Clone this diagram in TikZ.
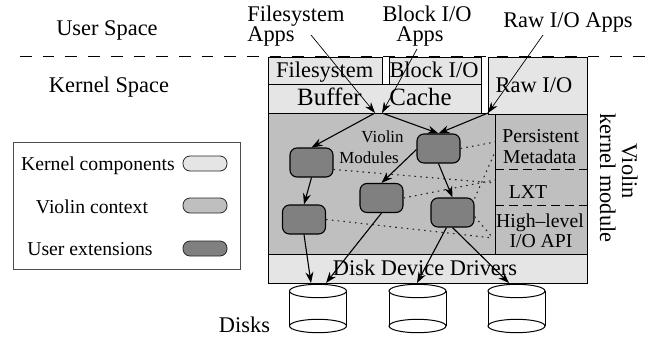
\documentclass[tikz,border=0pt]{standalone}
\usepackage{fontspec}
\setmainfont{Liberation Serif}
\usetikzlibrary{arrows.meta}
\tikzset{
  x=1pt,y=-1pt,
  txt/.style={inner sep=0pt,anchor=base,font=\fontsize{19.7}{22}\selectfont},
  big/.style={inner sep=0pt,anchor=base,font=\fontsize{22.4}{24}\selectfont},
  bigger/.style={inner sep=0pt,anchor=base,font=\fontsize{24.9}{26}\selectfont},
  small/.style={inner sep=0pt,anchor=base,font=\fontsize{16.9}{18}\selectfont},
  box/.style={draw=black,line width=1pt,inner sep=0pt,anchor=north west},
  kern/.style={box,fill=black!10},
  ctx/.style={box,fill=black!25},
  modl/.style={draw=black,line width=1.1pt,fill=black!50,rounded corners=7pt,minimum width=43pt,minimum height=29pt,inner sep=0pt},
  pill/.style={draw=black!85,line width=.8pt,rounded corners=7pt,minimum width=44pt,minimum height=15pt,inner sep=0pt},
  arr/.style={-{Stealth[length=11pt,width=8pt]},line width=1.1pt,black},
  thinarr/.style={-{Stealth[length=11pt,width=7.5pt]},line width=.7pt,black},
  dot/.style={dash pattern=on 1.6pt off 4.2pt,line width=1.1pt,black!85},
  dsk/.style={draw=black,line width=1pt},
}
\begin{document}
\begin{tikzpicture}
\useasboundingbox (0,0) rectangle (651,338);
% legend
\node[draw=black!70,line width=.9pt,minimum width=227pt,minimum height=127pt,inner sep=0pt,anchor=north west] (legend) at (13,142) {};
\node[txt] (lk) at (98,170) {Kernel components};
\node[txt] (lc) at (92,213) {Violin context};
\node[txt] (lu) at (90,255) {User extensions};
\node[pill,fill=black!10] (pk) at (205,163.5) {};
\node[pill,fill=black!25] (pc) at (205,205.5) {};
\node[pill,fill=black!50] (pu) at (205,248.5) {};
% panels
\node[ctx,minimum width=319pt,minimum height=141pt] (context) at (268,113) {};
\node[ctx,minimum width=92pt,minimum height=141pt] (panel) at (495,113) {};
\node[kern,minimum width=114pt,minimum height=27pt] (fs) at (268,57) {};
\node[kern,minimum width=92.5pt,minimum height=27pt] (bio) at (388.5,57) {};
\node[kern,minimum width=213pt,minimum height=29pt] (bc) at (268,84) {};
\node[kern,minimum width=99pt,minimum height=57pt] (raw) at (488,56.5) {};
\node[kern,minimum width=319pt,minimum height=29pt] (ddd) at (268,254) {};
\coordinate (p1l) at (495,169); \coordinate (p1r) at (587,169);
\coordinate (p2l) at (495,205); \coordinate (p2r) at (587,205);
\draw[dash pattern=on 9pt off 5pt,line width=1pt] (p1l) -- (p1r);
\draw[dash pattern=on 9pt off 5pt,line width=1pt] (p2l) -- (p2r);
% space line
\coordinate (sl) at (20,56.5); \coordinate (sr) at (646,56.5);
\draw[dash pattern=on 11.7pt off 11pt,line width=1pt] (sl) -- (sr);
% labels
\node[big] (us) at (107,35) {User Space};
\node[big] (ks) at (109,92) {Kernel Space};
\node[big] (a1) at (296,21) {Filesystem};
\node[big] (a1b) at (271,41.5) {Apps};
\node[big] (a2) at (427,21) {Block I/O};
\node[big] (a2b) at (420,41.5) {Apps};
\node[big] (a3) at (568,27) {Raw I/O Apps};
\node[big] (tf) at (324.7,77) {Filesystem};
\node[big] (tb) at (434,77) {Block I/O};
\node[bigger] (tbu) at (329.5,105) {Buffer};
\node[bigger] (tca) at (420.5,105) {Cache};
\node[big] (tr) at (534,92) {Raw I/O};
\node[small] (tv) at (382.5,142) {Violin};
\node[small] (tm) at (369,163) {Modules};
\node[txt] (tp) at (540.7,142) {Persistent};
\node[txt] (tmd) at (539.7,163) {Metadata};
\node[txt] (tl) at (528,198) {LXT};
\node[txt] (th) at (540,227) {High–level};
\node[txt] (ti) at (541,247) {I/O API};
\node[big,rotate=-90] (tvv) at (622,171) {Violin};
\node[big,rotate=-90] (tk) at (600,178) {kernel module};
\node[big] (dl) at (244.5,332) {Disks};
\node[big] (tdd) at (425,275) {Disk Device Drivers};
% modules
\node[modl] (mt) at (438.5,148.5) {};
\node[modl] (ml) at (311.5,162.5) {};
\node[modl] (mm) at (381.5,198) {};
\node[modl] (mb) at (304,219.5) {};
\node[modl] (mr) at (452.5,212.5) {};
% dotted
\coordinate (d1) at (495,142);
\coordinate (d2) at (495,183);
\coordinate (d2b) at (495,180);
\coordinate (d3) at (495,152);
\coordinate (d4) at (493,238);
\draw[dot] (mt.east) -- (d1);
\draw[dot] (ml.east) ++(0,7) -- (d2);
\draw[dot] (mm.east) -- (d2b);
\draw[dot] (mr.north east) ++(0,1) -- (d3);
\draw[dot] (mr.east) ++(0,4) -- (d4);
\draw[dot] (mb.east) -- (d4);
% disks
\foreach \n/\cx in {k1/318,k2/417.5,k3/516.5}{
  \node[minimum width=57pt,minimum height=35pt,inner sep=0pt] (\n) at (\cx,308.5) {};
  \draw[dsk] (\cx-28.5,291) -- (\cx-28.5,326);
  \draw[dsk] (\cx+28.5,291) -- (\cx+28.5,326);
  \draw[dsk] (\cx,326) ellipse[x radius=28.5,y radius=6.7];
  \draw[dsk,fill=white] (\cx,291) ellipse[x radius=28.5,y radius=6.7];
}
% arrows
\coordinate (s1) at (311,35);
\coordinate (s2) at (417,49);
\coordinate (s3) at (543,35);
\coordinate (e1) at (375,113);
\coordinate (e2) at (382,113);
\coordinate (e3) at (488,113);
\draw[thinarr] (s1) -- (e1);
\draw[thinarr] (s2) -- (e2);
\draw[thinarr] (s3) -- (e3);
\draw[arr] (e1) -- (ml.north);
\draw[arr] (e2) -- (mt.north);
\draw[arr] (e3) -- (mt.north);
\draw[arr] (mt.west) ++(0,1) -- (mm.north);
\draw[arr] (mt.south) -- (mr.north);
\draw[arr] (ml.south) -- (mb.north);
\coordinate (x1) at (311,283);
\coordinate (x2) at (326,283);
\coordinate (x3) at (417,283);
\coordinate (x4) at (509,283);
\draw[arr] (mb.south) -- (x1);
\draw[arr] (mm.south) -- (x2);
\draw[arr] (mr.south) ++(-6,0) -- (x3);
\draw[arr] (mr.south) -- (x4);
\end{tikzpicture}
\end{document}
